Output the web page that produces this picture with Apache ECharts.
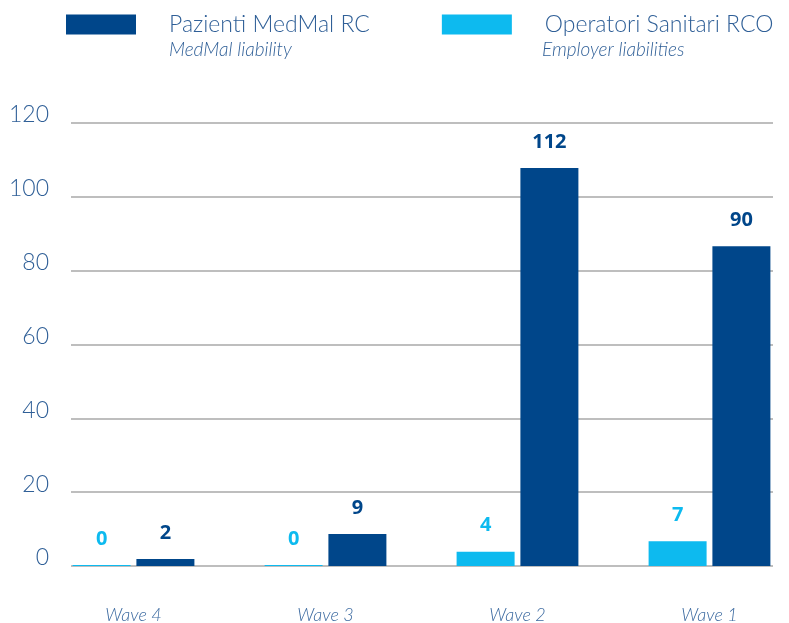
<!DOCTYPE html>
<html>
<head>
<meta charset="utf-8">
<script src="https://cdn.jsdelivr.net/npm/echarts@6/dist/echarts.min.js"></script>
<style>
html,body{margin:0;padding:0;background:#fff;}
#chart{width:789px;height:623px;}
</style>
</head>
<body>
<div id="chart"></div>
<script>
var categories = ['Wave 4', 'Wave 3', 'Wave 2', 'Wave 1'];
var seriesNames = ['Pazienti MedMal RC', 'Operatori Sanitari RCO'];
var subNames = ['MedMal liability', 'Employer liabilities'];
var pazienti = [2, 9, 112, 90];
var operatori = [0, 0, 4, 7];
var yTicks = [0, 20, 40, 60, 80, 100, 120];

var dark = '#00468a';
var light = '#0dbaef';
var textBlue = '#2f5f97';
var font = 'Lato';

var myChart = echarts.init(document.getElementById('chart'));
var option = {
    animation: false,
    legend: {
        data: seriesNames,
        left: 66,
        top: 13,
        padding: 0,
        itemWidth: 70,
        itemHeight: 20,
        itemGap: 72,
        icon: 'rect',
        selectedMode: false,
        textStyle: {
            fontFamily: font,
            fontWeight: 300,
            fontSize: 23,
            color: textBlue,
            padding: [0, 0, 0, 28]
        }
    },
    graphic: [
        {type: 'text', left: 169, top: 40, style: {text: subNames[0], font: 'italic 300 19px ' + font, fill: textBlue}},
        {type: 'text', left: 542, top: 40, style: {text: subNames[1], font: 'italic 300 19px ' + font, fill: textBlue}}
    ],
    grid: [
        {left: 71, right: 16, top: 123, bottom: 57, outerBoundsMode: 'none'},
        {left: 37.5, width: 768, top: 123, bottom: 57, outerBoundsMode: 'none'}
    ],
    xAxis: [
        {gridIndex: 0, type: 'value', show: false, min: 0, max: 1},
        {
            gridIndex: 1,
            type: 'category',
            data: categories,
            axisLine: {show: false},
            axisTick: {show: false},
            axisLabel: {
                margin: 40,
                fontFamily: font,
                fontStyle: 'italic',
                fontWeight: 300,
                fontSize: 18,
                color: '#3d6ba1'
            }
        }
    ],
    yAxis: [
        {
            gridIndex: 0,
            type: 'value',
            min: yTicks[0],
            max: yTicks[yTicks.length - 1],
            interval: 20,
            axisLine: {show: false},
            axisTick: {show: false},
            axisLabel: {
                margin: 22,
                verticalAlign: 'bottom',
                lineHeight: 16,
                fontFamily: font,
                fontWeight: 300,
                fontSize: 23,
                color: textBlue
            },
            splitLine: {
                show: true,
                lineStyle: {color: '#a9a9a9', width: 1.5}
            }
        },
        {gridIndex: 1, type: 'value', show: false, min: 0, max: 124.7}
    ],
    series: [
        {
            name: seriesNames[1],
            type: 'bar',
            xAxisIndex: 1,
            yAxisIndex: 1,
            data: operatori,
            barWidth: 58,
            barGap: '10%',
            barMinHeight: 1,
            itemStyle: {color: light},
            label: {
                show: true,
                position: 'top',
                distance: 16,
                fontFamily: 'Noto Sans',
                fontWeight: 'bold',
                fontSize: 20,
                color: light
            }
        },
        {
            name: seriesNames[0],
            type: 'bar',
            xAxisIndex: 1,
            yAxisIndex: 1,
            data: pazienti,
            barWidth: 58,
            barGap: '10%',
            itemStyle: {color: dark},
            label: {
                show: true,
                position: 'top',
                distance: 16,
                fontFamily: 'Noto Sans',
                fontWeight: 'bold',
                fontSize: 20,
                color: dark
            }
        }
    ]
};
myChart.setOption(option);
</script>
</body>
</html>
